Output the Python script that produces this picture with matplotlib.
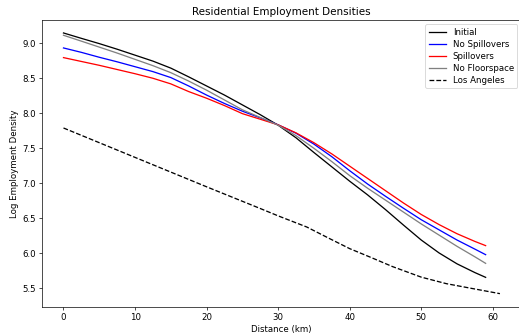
#!/usr/bin/env python3
import matplotlib
matplotlib.use('Agg')

import matplotlib.pyplot as plt
import numpy as np


# distance from the CBD (km) for the model series
dist = [0, 2.5, 5, 7.5, 10, 12.5, 15, 17.5, 20, 22.5, 25, 27.5, 30,
        32.5, 35, 37.5, 40, 42.5, 45, 47.5, 50, 52.5, 55, 57.5, 59]

initial = [9.147, 9.07, 8.995, 8.915, 8.83, 8.745, 8.645, 8.52, 8.39, 8.26, 8.12, 7.98, 7.83,
           7.65, 7.44, 7.235, 7.03, 6.835, 6.625, 6.405, 6.19, 6.005, 5.85, 5.725, 5.657]
no_spill = [8.933, 8.87, 8.80, 8.735, 8.665, 8.595, 8.51, 8.39, 8.26, 8.14, 8.03, 7.935, 7.835,
            7.715, 7.56, 7.38, 7.18, 6.99, 6.815, 6.645, 6.48, 6.335, 6.19, 6.06, 5.981]
spill = [8.795, 8.74, 8.685, 8.625, 8.565, 8.50, 8.42, 8.31, 8.215, 8.11, 7.995, 7.915, 7.835,
         7.72, 7.58, 7.42, 7.245, 7.07, 6.895, 6.72, 6.555, 6.41, 6.28, 6.17, 6.11]
no_floor = [9.114, 9.03, 8.945, 8.86, 8.77, 8.68, 8.58, 8.46, 8.33, 8.19, 8.05, 7.94, 7.83,
            7.68, 7.50, 7.31, 7.11, 6.93, 6.76, 6.59, 6.42, 6.26, 6.10, 5.95, 5.857]

# observed gradient for Los Angeles
la_dist = [0, 10, 20, 27.5, 30, 34, 37, 40, 43, 46, 50, 53.5, 57, 61]
la_dens = [7.79, 7.37, 6.95, 6.64, 6.535, 6.376, 6.22, 6.067, 5.94, 5.81, 5.66, 5.567, 5.50, 5.424]

DPI = 62
fig = plt.figure(figsize=(519 / DPI, 335 / DPI), dpi=DPI)
ax = fig.add_axes([0.0803, 0.0845, 0.925, 0.856])

ax.plot(dist, initial, color='black', label='Initial')
ax.plot(dist, no_spill, color='blue', label='No Spillovers')
ax.plot(dist, spill, color='red', label='Spillovers')
ax.plot(dist, no_floor, color='gray', label='No Floorspace')
ax.plot(la_dist, la_dens, 'k--', label='Los Angeles')

ax.set_title('Residential Employment Densities')
ax.set_xlabel('Distance (km)')
ax.set_ylabel('Log Employment Density')
ax.set_xticks(np.arange(0, 61, 10))
ax.set_yticks(np.arange(5.5, 9.01, 0.5))
ax.legend(loc='upper right', labelspacing=0.35)

plt.savefig('out.png', dpi=DPI)
